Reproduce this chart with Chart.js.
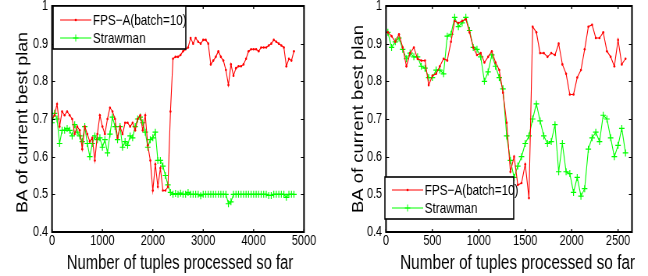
<!DOCTYPE html>
<html>
<head>
<meta charset="utf-8">
<script src="https://cdn.jsdelivr.net/npm/chart.js@4/dist/chart.umd.min.js"></script>
<style>
html,body{margin:0;padding:0;background:#fff;}
.wrap{position:absolute;top:0;width:324px;height:276px;overflow:hidden;}
/* the original figure is squeezed sideways, so draw wider and squeeze */
.wrap canvas{transform:scaleX(0.7807);transform-origin:0 0;}
</style>
</head>
<body>
<div class="wrap" style="left:0"><canvas id="leftChart" width="415" height="276"></canvas></div>
<div class="wrap" style="left:324px"><canvas id="rightChart" width="415" height="276"></canvas></div>
<script>

// series names
const fpsName = "FPS\u2212A(batch=10)"
const strawName = "Strawman"

// axis titles
const xTitle = "Number of tuples processed so far"
const yTitle = "BA of current best plan"

// axis ticks
const yTicks = [0.4, 0.5, 0.6, 0.7, 0.8, 0.9, 1]
const yTickLabels = ["0.4", "0.5", "0.6", "0.7", "0.8", "0.9", "1"]
const leftXTicks = [0, 1000, 2000, 3000, 4000, 5000]
const rightXTicks = [0, 500, 1000, 1500, 2000, 2500]

// left panel: tuples processed
const leftX = [0,50,100,150,200,250,300,350,400,450,500,550,600,650,700,750,800,850,900,950,
1000,1050,1100,1150,1200,1250,1300,1350,1400,1450,1500,1550,1600,1650,1700,1750,1800,1850,1900,1950,
2000,2050,2100,2150,2200,2250,2300,2350,2400,2450,2500,2550,2600,2650,2700,2750,2800,2850,2900,2950,
3000,3050,3100,3150,3200,3250,3300,3350,3400,3450,3500,3550,3600,3650,3700,3750,3800,3850,3900,3950,
4000,4050,4100,4150,4200,4250,4300,4350,4400,4450,4500,4550,4600,4650,4700,4750,4800]

const leftFps = [0.70,0.71,0.74,0.68,0.72,0.71,0.72,0.71,0.70,0.66,0.68,0.67,0.62,0.68,0.66,0.64,0.65,0.59,0.66,0.71,
0.68,0.66,0.70,0.73,0.72,0.70,0.65,0.68,0.66,0.69,0.69,0.68,0.69,0.67,0.70,0.71,0.67,0.71,0.63,0.59,
0.51,0.58,0.52,0.57,0.51,0.51,0.52,0.72,0.86,0.865,0.865,0.87,0.88,0.885,0.89,0.915,0.90,0.915,0.905,0.90,
0.91,0.91,0.90,0.845,0.855,0.865,0.88,0.865,0.855,0.83,0.79,0.845,0.815,0.835,0.84,0.84,0.845,0.86,0.88,0.885,
0.885,0.885,0.88,0.89,0.89,0.89,0.895,0.90,0.91,0.905,0.90,0.895,0.89,0.84,0.86,0.855,0.88]

const leftStraw = [0.69,0.715,0.70,0.635,0.67,0.67,0.675,0.67,0.655,0.685,0.665,0.655,0.64,0.68,0.635,0.60,0.635,0.655,0.645,0.65,
0.625,0.645,0.61,0.66,0.705,0.68,0.645,0.68,0.625,0.64,0.63,0.655,0.65,0.68,0.70,0.705,0.69,0.665,0.625,0.645,
0.65,0.665,0.59,0.59,0.575,0.55,0.525,0.505,0.50,0.502,0.50,0.503,0.50,0.50,0.505,0.50,0.50,0.50,0.50,0.496,
0.50,0.50,0.50,0.50,0.50,0.50,0.50,0.50,0.50,0.50,0.475,0.48,0.50,0.50,0.50,0.50,0.50,0.50,0.50,0.50,
0.50,0.50,0.50,0.50,0.50,0.50,0.497,0.497,0.50,0.50,0.50,0.50,0.50,0.492,0.50,0.50,0.50]

// right panel: tuples processed
const rightX = [20,60,100,140,180,220,260,300,340,380,420,460,500,540,580,620,660,700,740,780,
820,860,900,940,980,1020,1060,1100,1140,1180,1220,1260,1300,1340,1380,1420,1460,1500,1540,1580,
1620,1660,1700,1740,1780,1820,1860,1900,1940,1980,2020,2060,2100,2140,2180,2220,2260,2300,2340,2380,
2420,2460,2500,2540,2580]

const rightFps = [0.93,0.92,0.905,0.925,0.89,0.84,0.875,0.89,0.86,0.855,0.855,0.79,0.815,0.82,0.84,0.86,0.855,0.905,0.96,0.955,
0.96,0.965,0.93,0.89,0.87,0.875,0.85,0.865,0.88,0.85,0.83,0.77,0.69,0.56,0.60,0.525,0.53,0.58,0.49,0.945,
0.93,0.875,0.875,0.865,0.875,0.87,0.90,0.845,0.82,0.765,0.765,0.81,0.83,0.885,0.945,0.95,0.915,0.915,0.93,0.88,
0.865,0.84,0.91,0.845,0.86]

const rightStraw = [0.93,0.89,0.905,0.915,0.885,0.86,0.875,0.865,0.865,0.84,0.835,0.81,0.81,0.83,0.83,0.82,0.92,0.925,0.97,0.945,
0.955,0.97,0.935,0.89,0.885,0.865,0.80,0.825,0.87,0.84,0.81,0.78,0.655,0.59,0.545,0.575,0.60,0.635,0.655,0.70,
0.74,0.695,0.655,0.635,0.64,0.685,0.56,0.635,0.56,0.555,0.505,0.545,0.495,0.515,0.62,0.65,0.665,0.64,0.71,0.70,
0.65,0.60,0.63,0.675,0.61]


const fontFam = "'Liberation Sans', Arial, Helvetica, sans-serif"

function pts(xs, ys){
  return xs.map((x, i) => ({x: x, y: ys[i]}))
}

// black box round the axes with inward ticks on all four sides
const frameTicks = {
  id: "frameTicks",
  afterDatasetsDraw(chart){
    const {ctx, chartArea: a, scales: {x, y}} = chart
    ctx.save()
    ctx.strokeStyle = "#000"
    ctx.lineWidth = 1.3
    ctx.beginPath()
    x.ticks.forEach(t => {
      const px = x.getPixelForValue(t.value)
      ctx.moveTo(px, a.bottom); ctx.lineTo(px, a.bottom - 3)
      ctx.moveTo(px, a.top); ctx.lineTo(px, a.top + 3)
    })
    ctx.stroke()
    ctx.lineWidth = 1
    ctx.beginPath()
    y.ticks.forEach(t => {
      const py = Math.round(y.getPixelForValue(t.value)) + 0.5
      ctx.moveTo(a.left, py); ctx.lineTo(a.left + 4, py)
      ctx.moveTo(a.right, py); ctx.lineTo(a.right - 4, py)
    })
    ctx.stroke()
    ctx.lineWidth = 2
    ctx.strokeRect(a.left, a.top, a.right - a.left, a.bottom - a.top)
    ctx.restore()
  }
}

// axis titles, squeezed to the width they have in the figure
const axisTitles = {
  id: "axisTitles",
  afterDraw(chart, args, o){
    const ctx = chart.ctx
    ctx.save()
    ctx.fillStyle = "#000"
    ctx.textAlign = "center"
    ctx.textBaseline = "alphabetic"
    ctx.font = o.xSize + "px " + fontFam
    ctx.fillText(xTitle, o.xCenter, o.xBase, o.xWidth)
    ctx.translate(o.yBase, o.yCenter)
    ctx.rotate(-Math.PI / 2)
    ctx.font = o.ySize + "px " + fontFam
    ctx.fillText(yTitle, 0, 0, o.yLength)
    ctx.restore()
  }
}

// matlab style legend box
const boxLegend = {
  id: "boxLegend",
  afterDraw(chart, args, opts){
    const ctx = chart.ctx
    const b = opts.box
    ctx.save()
    ctx.fillStyle = "#fff"
    ctx.fillRect(b.x, b.y, b.w, b.h)
    ctx.strokeStyle = "#000"
    ctx.lineWidth = 1.6
    ctx.strokeRect(b.x, b.y, b.w, b.h)
    chart.data.datasets.forEach((ds, i) => {
      const yy = b.y + opts.rows[i]
      ctx.strokeStyle = ds.borderColor
      ctx.fillStyle = ds.borderColor
      ctx.lineWidth = 1
      ctx.beginPath()
      ctx.moveTo(b.x + 9, yy)
      ctx.lineTo(b.x + 49, yy)
      ctx.stroke()
      Chart.helpers.drawPoint(ctx, {pointStyle: ds.pointStyle, radius: ds.pointRadius, borderWidth: ds.pointBorderWidth, rotation: 0}, b.x + 29, yy)
      ctx.fillStyle = "#000"
      ctx.font = "15px " + fontFam
      ctx.textBaseline = "middle"
      ctx.textAlign = "left"
      ctx.fillText(ds.label, b.x + 51, yy + 1)
    })
    ctx.restore()
  }
}

function makeChart(id, xs, fps, straw, xMax, xTicks, yWidth, padRight, titles, legendBox){
  return new Chart(document.getElementById(id), {
    type: "line",
    data: {
      datasets: [{
        label: fpsName,
        data: pts(xs, fps),
        borderColor: "#ff0000",
        backgroundColor: "#ff0000",
        borderWidth: 1.1,
        pointStyle: "circle",
        pointRadius: 1.3,
        pointBorderWidth: 0,
        tension: 0
      }, {
        label: strawName,
        data: pts(xs, straw),
        borderColor: "#00ff00",
        backgroundColor: "#00ff00",
        borderWidth: 1.1,
        pointStyle: "cross",
        pointRadius: 3.5,
        pointBorderWidth: 1.2,
        tension: 0
      }]
    },
    options: {
      responsive: false,
      animation: false,
      devicePixelRatio: 1,
      layout: {padding: {left: 0, right: padRight, top: 6, bottom: 0}},
      plugins: {
        legend: {display: false},
        tooltip: {enabled: false},
        axisTitles: titles,
        boxLegend: legendBox
      },
      scales: {
        x: {
          type: "linear",
          min: 0,
          max: xMax,
          afterBuildTicks: s => { s.ticks = xTicks.map(v => ({value: v})) },
          afterFit: s => { s.height = 44; s.paddingLeft = 0; s.paddingRight = 0 },
          grid: {display: false, drawTicks: false},
          border: {display: false},
          ticks: {color: "#000", padding: 1, maxRotation: 0, autoSkip: false,
            font: {family: fontFam, size: 14}, callback: v => String(v)}
        },
        y: {
          min: 0.4,
          max: 1,
          afterBuildTicks: s => { s.ticks = yTicks.map(v => ({value: v})) },
          afterFit: s => { s.width = yWidth; s.paddingTop = 0; s.paddingBottom = 0 },
          grid: {display: false, drawTicks: false},
          border: {display: false},
          ticks: {color: "#000", padding: 5, autoSkip: false,
            font: {family: fontFam, size: 14},
            callback: (v, i) => yTickLabels[i]}
        }
      }
    },
    plugins: [frameTicks, axisTitles, boxLegend]
  })
}

makeChart("leftChart", leftX, leftFps, leftStraw, 5000, leftXTicks, 66.6, 25.6,
  {xSize: 20, xCenter: 230.6, xBase: 269, xWidth: 290, ySize: 21, yBase: 34.7, yCenter: 122.5, yLength: 181},
  {box: {x: 68, y: 6, w: 170, h: 43}, rows: [14, 32]})

makeChart("rightChart", rightX, rightFps, rightStraw, 2650, rightXTicks, 79.4, 20.5,
  {xSize: 20, xCenter: 247.9, xBase: 269, xWidth: 301, ySize: 21, yBase: 50.2, yCenter: 119, yLength: 188},
  {box: {x: 78, y: 177, w: 165, h: 42}, rows: [13, 31]})

</script>
</body>
</html>
